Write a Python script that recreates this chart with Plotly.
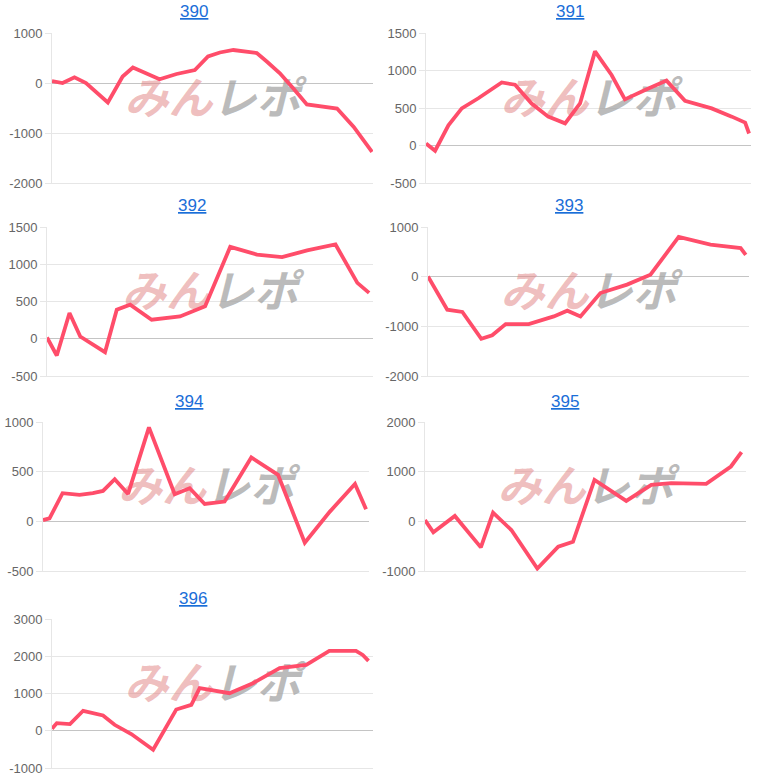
import plotly.graph_objects as go

W, H = 757, 776

# ---- data (progress % vs. difference) ----
titles = ["390", "391", "392", "393", "394", "395", "396"]

x390 = [0, 3.3, 7, 10.6, 17.4, 22, 25.2, 29.4, 33.5, 38.8, 44.5, 48.6, 52.3, 56.5, 60.6, 63.8, 66.9, 71, 75.2, 79.4, 88.8, 94, 99.7]
y390 = [40, 0, 115, 0, -390, 130, 310, 195, 75, 180, 260, 530, 610, 660, 630, 600, 430, 195, -110, -430, -510, -880, -1380]

x391 = [0, 2.8, 6.9, 11, 16.1, 23.3, 27.4, 32.5, 37.6, 42.8, 47.4, 52, 57.1, 61.2, 67.4, 74, 79.7, 87.9, 94.1, 98.2, 99.4]
y391 = [27, -70, 270, 495, 630, 840, 810, 560, 385, 295, 560, 1255, 940, 615, 740, 865, 595, 495, 385, 305, 160]

x392 = [0, 3, 6.9, 10.2, 17.8, 21.4, 25.5, 32.1, 40.8, 48.5, 56.2, 64.4, 72.1, 79.8, 88.5, 95.2, 98.8]
y392 = [18, -225, 345, 30, -180, 390, 457, 255, 300, 435, 1233, 1130, 1095, 1185, 1265, 750, 615]

x393 = [0, 2.9, 6, 10.7, 16.6, 20, 24.2, 31.4, 39.2, 43.4, 47.5, 53.7, 62, 69.3, 78.1, 88, 97.4, 99]
y393 = [5, -330, -665, -710, -1250, -1180, -955, -955, -800, -685, -800, -330, -160, 40, 800, 645, 575, 440]

x394 = [0, 2, 6, 11.2, 15.3, 18.4, 22, 26.1, 32.5, 40.4, 45, 49.6, 55.7, 63.9, 72.1, 80.3, 88, 95.7, 99.1]
y394 = [13, 30, 283, 266, 283, 306, 424, 276, 946, 273, 333, 175, 199, 643, 468, -215, 98, 377, 121]

x395 = [0, 2.6, 9.3, 17.4, 21.2, 26.9, 35, 41.5, 46.1, 52.8, 62.7, 70.5, 76.7, 87.6, 95.3, 98.6]
y395 = [27, -222, 108, -525, 175, -175, -950, -512, -411, 835, 411, 734, 768, 754, 1104, 1394]

x396 = [0, 1.5, 5.6, 9.7, 15.9, 19.5, 24.7, 31.5, 38.7, 43.4, 46, 55.3, 62.6, 70.9, 79.2, 86.4, 94.7, 96.8, 98.6]
y396 = [54, 205, 179, 536, 411, 160, -89, -509, 571, 696, 1143, 1009, 1277, 1679, 1768, 2143, 2143, 2036, 1875]

xs = [x390, x391, x392, x393, x394, x395, x396]
ys = [y390, y391, y392, y393, y394, y395, y396]
y_ticks = [
    [-2000, -1000, 0, 1000],
    [-500, 0, 500, 1000, 1500],
    [-500, 0, 500, 1000, 1500],
    [-2000, -1000, 0, 1000],
    [-500, 0, 500, 1000],
    [-1000, 0, 1000, 2000],
    [-1000, 0, 1000, 2000, 3000],
]

# ---- layout (pixel boxes of each plot area) ----
boxes = [
    (52, 373, 33, 183),
    (426, 751, 33, 183),
    (47, 373, 227, 376),
    (428, 749, 227, 376),
    (43, 369, 422, 571),
    (425, 746, 422, 571),
    (52, 373, 619, 768),
]
title_x = [194, 570, 192, 569, 189, 565, 193]

LINE = "#ff4d6a"
GRID = "#e6e6e6"

fig = go.Figure()
layout = dict(
    width=W, height=H, margin=dict(l=0, r=0, t=0, b=0, autoexpand=False),
    paper_bgcolor="white", plot_bgcolor="white", showlegend=False,
    font=dict(family="Liberation Sans, Arial, sans-serif"),
)
annotations = []
for i in range(7):
    n = "" if i == 0 else str(i + 1)
    x0, x1, yt, yb = boxes[i]
    ticks = y_ticks[i]
    lo, hi = ticks[0], ticks[-1]
    # watermark (drawn first, behind the line)
    fig.add_trace(go.Scatter(
        x=[50], y=[lo + 0.535 * (hi - lo)], mode="text",
        text=["<span style='fill:rgba(225,135,135,0.55)'>みん</span><span style='fill:rgba(165,165,165,0.75)'>レポ</span>"],
        textfont=dict(family="Noto Sans CJK JP", size=44, weight="bold", style="italic"),
        hoverinfo="skip", xaxis="x" + n, yaxis="y" + n,
    ))
    fig.add_trace(go.Scatter(
        x=xs[i], y=ys[i], mode="lines",
        line=dict(color=LINE, width=3.8),
        xaxis="x" + n, yaxis="y" + n, hoverinfo="skip",
    ))
    layout["xaxis" + n] = dict(
        domain=[x0 / W, x1 / W], range=[0, 100], anchor="y" + n,
        showticklabels=False, showgrid=False, zeroline=False, automargin=False,
        showline=True, linecolor=GRID, linewidth=1, fixedrange=True,
    )
    layout["yaxis" + n] = dict(
        domain=[1 - yb / H, 1 - yt / H], range=[lo, hi],
        tickmode="array", tickvals=ticks, ticktext=[str(t) for t in ticks],
        anchor="x" + n, showgrid=True, gridcolor=GRID, gridwidth=1,
        zeroline=True, zerolinecolor="#c4c4c4", zerolinewidth=1,
        showline=True, linecolor=GRID, linewidth=1, automargin=False,
        ticks="outside", ticklen=6, tickcolor=GRID,
        tickfont=dict(size=13, color="#666666"), fixedrange=True,
    )
    annotations.append(dict(
        text="<u>" + titles[i] + "</u>", x=title_x[i] / W, y=1 - (yt - 21) / H,
        xref="paper", yref="paper", xanchor="center", yanchor="middle",
        showarrow=False, font=dict(size=17, color="#1a6ed8"),
    ))
layout["annotations"] = annotations
fig.update_layout(**layout)
fig.write_html(
    "out.html",
    config={"displayModeBar": False, "staticPlot": True},
    post_script="document.body.style.margin='0';document.body.style.overflow='hidden';",
)
